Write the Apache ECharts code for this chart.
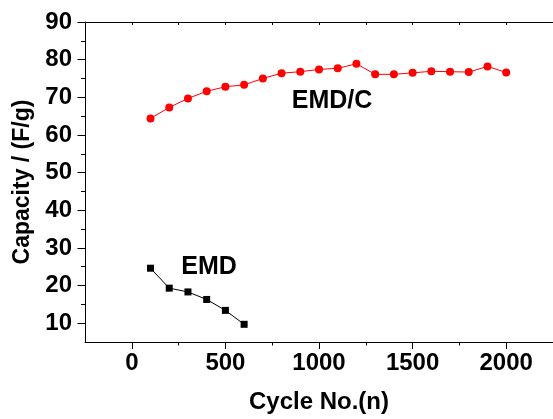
<!DOCTYPE html>
<html>
<head>
<meta charset="utf-8">
<script src="https://cdn.jsdelivr.net/npm/echarts@6/dist/echarts.min.js"></script>
<style>
  html, body { margin: 0; padding: 0; background: #fff; }
  #main { width: 553px; height: 419px; }
</style>
</head>
<body>
<div id="main"></div>
<script>
var cycles = [100, 200, 300, 400, 500, 600, 700, 800, 900, 1000,
              1100, 1200, 1300, 1400, 1500, 1600, 1700, 1800, 1900, 2000];
var emdcCapacity = [64.4, 67.3, 69.7, 71.6, 72.8, 73.3, 75.0, 76.4, 76.8, 77.4,
                    77.7, 78.9, 76.1, 76.1, 76.5, 76.9, 76.8, 76.7, 78.2, 76.6];
var emdCycles = [100, 200, 300, 400, 500, 600];
var emdCapacity = [24.6, 19.3, 18.3, 16.3, 13.4, 9.7];

var xMajor = [0, 500, 1000, 1500, 2000];
var xMinor = [250, 750, 1250, 1750];
var xTop = [0, 250, 500, 750, 1000, 1250, 1500, 1750, 2000, 2250];
var yMajor = [10, 20, 30, 40, 50, 60, 70, 80, 90];
var yMinor = [15, 25, 35, 45, 55, 65, 75, 85];

var chartDom = document.getElementById('main');
var myChart = echarts.init(chartDom);
var option;

var font = 'Liberation Sans, Arial, sans-serif';
var black = { color: '#000', width: 1 };

function pairs(xs, ys) {
  return xs.map(function (x, i) { return [x, ys[i]]; });
}
function plain(v) { return String(v); }

option = {
  animation: false,
  backgroundColor: '#fff',
  grid: { left: 85, top: 22, width: 470, height: 321 },
  xAxis: [
    {
      type: 'value',
      min: -250,
      max: 2250,
      position: 'bottom',
      name: 'Cycle No.(n)',
      nameLocation: 'middle',
      nameGap: 48,
      nameTextStyle: { fontFamily: font, fontWeight: 'bold', fontSize: 24, color: '#000' },
      axisLine: { onZero: false, lineStyle: black },
      axisTick: { customValues: xMajor, length: 7, lineStyle: black },
      axisLabel: {
        customValues: xMajor, formatter: plain,
        fontFamily: font, fontWeight: 'bold', fontSize: 24, color: '#000', margin: 9
      },
      splitLine: { show: false }
    },
    {
      type: 'value',
      min: -250,
      max: 2250,
      position: 'bottom',
      axisLine: { show: false, onZero: false },
      axisTick: { customValues: xMinor, length: 3.5, lineStyle: black },
      axisLabel: { show: false },
      splitLine: { show: false }
    },
    {
      type: 'value',
      min: -250,
      max: 2250,
      position: 'top',
      axisLine: { onZero: false, lineStyle: black },
      axisTick: { customValues: xTop, length: 3, inside: true, lineStyle: black },
      axisLabel: { show: false },
      splitLine: { show: false }
    }
  ],
  yAxis: [
    {
      type: 'value',
      min: 5,
      max: 90,
      position: 'left',
      name: 'Capacity / (F/g)',
      nameLocation: 'middle',
      nameGap: 50,
      nameTextStyle: { fontFamily: font, fontWeight: 'bold', fontSize: 23, color: '#000' },
      axisLine: { show: true, onZero: false, lineStyle: black },
      axisTick: { customValues: yMajor, length: 7.5, lineStyle: black },
      axisLabel: {
        customValues: yMajor, formatter: plain,
        fontFamily: font, fontWeight: 'bold', fontSize: 24, color: '#000', margin: 13
      },
      splitLine: { show: false }
    },
    {
      type: 'value',
      min: 5,
      max: 90,
      position: 'left',
      axisLine: { show: false, onZero: false },
      axisTick: { customValues: yMinor, length: 4, lineStyle: black },
      axisLabel: { show: false },
      splitLine: { show: false }
    }
  ],
  graphic: [
    {
      type: 'text', x: 332, y: 101,
      style: {
        text: 'EMD/C', fontFamily: font, fontWeight: 'bold', fontSize: 25,
        fill: '#000', align: 'center', verticalAlign: 'middle'
      }
    },
    {
      type: 'text', x: 209, y: 267,
      style: {
        text: 'EMD', fontFamily: font, fontWeight: 'bold', fontSize: 25,
        fill: '#000', align: 'center', verticalAlign: 'middle'
      }
    }
  ],
  series: [
    {
      name: 'EMD/C',
      type: 'line',
      xAxisIndex: 0,
      yAxisIndex: 0,
      data: pairs(cycles, emdcCapacity),
      symbol: 'circle',
      symbolSize: 8,
      itemStyle: { color: '#ff0000' },
      lineStyle: { color: '#ff0000', width: 1 }
    },
    {
      name: 'EMD',
      type: 'line',
      xAxisIndex: 0,
      yAxisIndex: 0,
      data: pairs(emdCycles, emdCapacity),
      symbol: 'rect',
      symbolSize: 7,
      itemStyle: { color: '#000' },
      lineStyle: { color: '#000', width: 1 }
    }
  ]
};

option && myChart.setOption(option);
</script>
</body>
</html>
